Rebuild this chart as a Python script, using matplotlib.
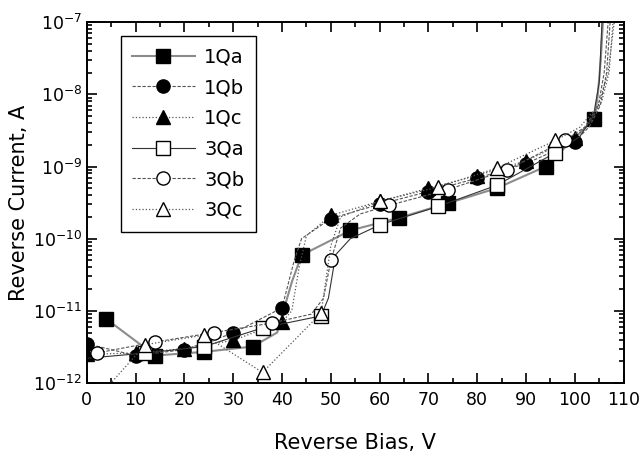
import numpy as np
import matplotlib
matplotlib.use('Agg')
import matplotlib.pyplot as plt
from matplotlib.ticker import MultipleLocator, LogLocator

# reverse bias (V) and reverse current (A) for each diode
# mk_* = bias values that carry a marker, the rest only shape the curve
v_1qa = [4, 14, 24, 34, 39, 42, 44, 54, 64, 74, 84, 94, 104, 104.7, 105.3, 105.8]
i_1qa = [7.7e-12, 2.4e-12, 2.7e-12, 3.2e-12, 5.0e-12, 2.5e-11, 5.9e-11, 1.3e-10,
         1.95e-10, 3.1e-10, 5.0e-10, 1.0e-9, 4.6e-9, 1.0e-8, 3.0e-8, 1.2e-7]
mk_1qa = [4, 14, 24, 34, 44, 54, 64, 74, 84, 94, 104]

v_1qb = [0, 10, 20, 30, 40, 42.5, 44, 50, 60, 70, 80, 90, 100, 103, 105.2, 106.5, 107.3]
i_1qb = [3.5e-12, 2.4e-12, 2.9e-12, 4.9e-12, 1.1e-11, 5.0e-11, 1.0e-10, 1.9e-10,
         3.0e-10, 4.5e-10, 6.9e-10, 1.1e-9, 2.2e-9, 3.6e-9, 7.0e-9, 2.0e-8, 1.2e-7]
mk_1qb = [0, 10, 20, 30, 40, 50, 60, 70, 80, 90, 100]

v_1qc = [0, 10, 20, 30, 40, 42, 43.5, 45, 50, 60, 70, 80, 90, 100, 103, 105.5, 107, 107.9]
i_1qc = [2.5e-12, 2.6e-12, 3.0e-12, 3.9e-12, 7.0e-12, 1.0e-11, 4.0e-11, 1.1e-10, 2.1e-10,
         3.3e-10, 5.0e-10, 7.5e-10, 1.2e-9, 2.5e-9, 4.0e-9, 8.0e-9, 2.0e-8, 1.2e-7]
mk_1qc = [0, 10, 20, 30, 40, 50, 60, 70, 80, 90, 100]

v_3qa = [0, 12, 24, 36, 48, 49.5, 51, 54, 60, 72, 84, 96, 101, 103.8, 105, 105.6]
i_3qa = [2.2e-12, 2.6e-12, 3.2e-12, 5.8e-12, 8.5e-12, 1.5e-11, 6.0e-11, 1.0e-10, 1.55e-10,
         2.8e-10, 5.5e-10, 1.55e-9, 2.6e-9, 5.0e-9, 1.5e-8, 1.2e-7]
mk_3qa = [12, 24, 36, 48, 60, 72, 84, 96]

v_3qb = [2, 14, 26, 38, 46, 48.5, 50, 52, 56, 62, 74, 86, 98, 102, 104.8, 106, 106.9]
i_3qb = [2.6e-12, 3.7e-12, 5.0e-12, 6.8e-12, 9.0e-12, 1.5e-11, 5.0e-11, 1.4e-10, 2.2e-10,
         2.9e-10, 4.8e-10, 8.9e-10, 2.3e-9, 3.5e-9, 7.0e-9, 2.0e-8, 1.2e-7]
mk_3qb = [2, 14, 26, 38, 50, 62, 74, 86, 98]

v_3qc = [2, 12, 24, 36, 48, 50, 52, 60, 72, 84, 96, 101, 104.8, 106.8, 108.2]
i_3qc = [6.0e-13, 3.4e-12, 4.6e-12, 1.4e-12, 9.3e-12, 8.0e-11, 2.0e-10, 3.3e-10, 5.2e-10,
         9.5e-10, 2.3e-9, 3.5e-9, 7.0e-9, 2.0e-8, 1.2e-7]
mk_3qc = [12, 24, 36, 48, 60, 72, 84, 96]

labels = ['1Qa', '1Qb', '1Qc', '3Qa', '3Qb', '3Qc']


def marks(v, mk):
    return [k for k, x in enumerate(v) if x in mk]


fig = plt.figure(figsize=(6.43, 4.62), dpi=100)
ax = fig.add_axes([0.135, 0.171, 0.835, 0.781])

ms = 9.5
# filled markers
ax.plot(v_1qa, i_1qa, '-', color='#8c8c8c', lw=1.5, marker='s', ms=ms,
        mfc='black', mec='black', markevery=marks(v_1qa, mk_1qa), label=labels[0])
ax.plot(v_1qb, i_1qb, '--', color='#555555', lw=0.8, dashes=(3, 1.5), marker='o', ms=ms,
        mfc='black', mec='black', markevery=marks(v_1qb, mk_1qb), label=labels[1])
ax.plot(v_1qc, i_1qc, ':', color='#555555', lw=0.9, marker='^', ms=ms,
        mfc='black', mec='black', markevery=marks(v_1qc, mk_1qc), label=labels[2])
# open markers
ax.plot(v_3qa, i_3qa, '-', color='#333333', lw=0.8, marker='s', ms=ms,
        mfc='white', mec='black', mew=1.0, markevery=marks(v_3qa, mk_3qa), label=labels[3])
ax.plot(v_3qb, i_3qb, '--', color='#555555', lw=0.8, dashes=(3, 1.5), marker='o', ms=ms,
        mfc='white', mec='black', mew=1.0, markevery=marks(v_3qb, mk_3qb), label=labels[4])
ax.plot(v_3qc, i_3qc, ':', color='#555555', lw=0.9, marker='^', ms=ms,
        mfc='white', mec='black', mew=1.0, markevery=marks(v_3qc, mk_3qc), label=labels[5])

ax.set_yscale('log')
ax.set_xlim(0, 110)
ax.set_ylim(1e-12, 1e-7)
ax.xaxis.set_major_locator(MultipleLocator(10))
ax.xaxis.set_minor_locator(MultipleLocator(5))
ax.yaxis.set_major_locator(LogLocator(base=10, numticks=10))
ax.yaxis.set_minor_locator(LogLocator(base=10, subs=np.arange(2, 10), numticks=10))
ax.tick_params(which='both', direction='in', top=True, right=True, labelsize=12.5, width=1.2)
ax.tick_params(which='major', length=7)
ax.tick_params(which='minor', length=3.5)
ax.tick_params(axis='x', pad=6)
for s in ax.spines.values():
    s.set_linewidth(1.4)

ax.set_xlabel('Reverse Bias, V', fontsize=15, labelpad=17)
ax.set_ylabel('Reverse Current, A', fontsize=15, labelpad=3)

leg = ax.legend(loc='upper left', bbox_to_anchor=(0.063, 0.962), fontsize=14,
                handlelength=3.2, fancybox=False, edgecolor='black', framealpha=1,
                borderpad=0.6, labelspacing=0.6, handletextpad=0.5, borderaxespad=0)
leg.get_frame().set_linewidth(1.0)

fig.savefig('out.png', dpi=100)
